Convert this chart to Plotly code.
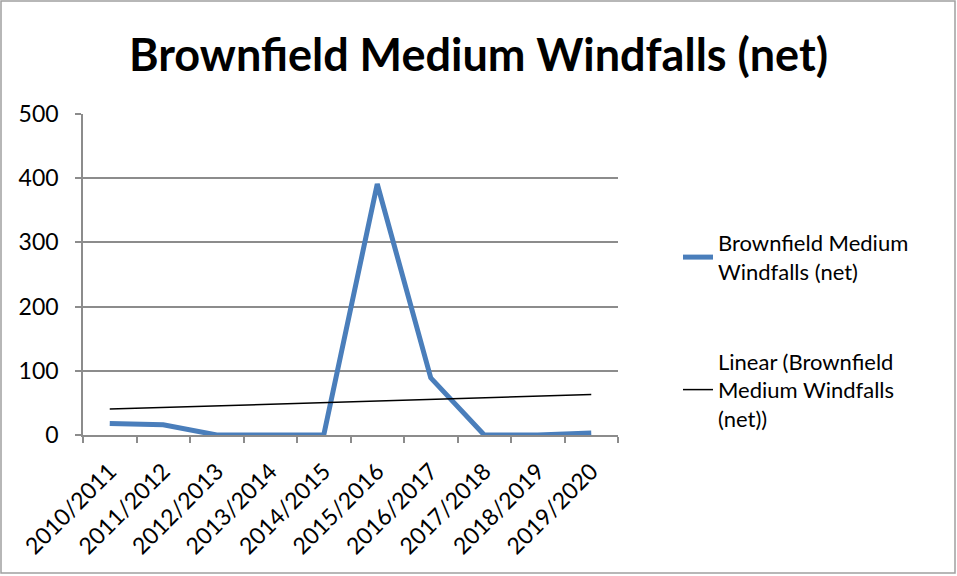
import numpy as np
import plotly.graph_objects as go

years = ["2010/2011", "2011/2012", "2012/2013", "2013/2014", "2014/2015",
         "2015/2016", "2016/2017", "2017/2018", "2018/2019", "2019/2020"]
windfalls = [18, 16, 0, 0, 0, 391, 89, 0, 0, 3]
y_ticks = [0, 100, 200, 300, 400, 500]

# linear trendline, as Excel draws it
idx = np.arange(len(years))
slope, intercept = np.polyfit(idx, windfalls, 1)
trend = slope * idx + intercept

FONT = "Lato"
GRID = "#8c8c8c"

fig = go.Figure()
fig.add_trace(go.Scatter(
    x=years, y=windfalls, mode="lines", legendgroup="a",
    name="Brownfield Medium<br>Windfalls (net)",
    line=dict(color="#4a7ebb", width=5),
))
fig.add_trace(go.Scatter(
    x=years, y=trend, mode="lines", legendgroup="b",
    name="Linear (Brownfield<br>Medium Windfalls<br>(net))",
    line=dict(color="black", width=1.5),
))

# plot area edges in px, used to place the outer border
L, R, T, B = 83, 618, 114, 435
W, H = 957, 576
pw, ph = R - L, B - T

fig.update_layout(
    width=W, height=H,
    margin=dict(l=L, r=W - R, t=T, b=H - B, autoexpand=False),
    paper_bgcolor="white", plot_bgcolor="white",
    font=dict(family=FONT, color="black", size=22),
    title=dict(text="<b>Brownfield Medium Windfalls (net)</b>",
               x=0.5, xanchor="center", y=1 - 55 / H, yanchor="middle",
               font=dict(size=45, family=FONT)),
    showlegend=True,
    legend=dict(x=(678 - L) / pw, y=(B - 222) / ph, xanchor="left", yanchor="top",
                font=dict(size=22), tracegroupgap=58, bgcolor="rgba(0,0,0,0)"),
    shapes=[dict(type="rect", xref="paper", yref="paper",
                 x0=(1 - L) / pw, x1=(955 - L) / pw,
                 y0=(B - 573) / ph, y1=(B - 1) / ph,
                 line=dict(color="#a0a0a0", width=1.5), layer="below")],
)
fig.update_xaxes(
    type="category", range=[-0.5, len(years) - 0.5], automargin=False,
    tickangle=-45, tickson="boundaries",
    ticks="outside", ticklen=6, tickcolor=GRID, tickwidth=1.5,
    ticklabelstandoff=12,
    showline=True, linecolor=GRID, linewidth=1.5, showgrid=False,
    tickfont=dict(size=23),
)
fig.update_yaxes(
    range=[0, 500], tickvals=y_ticks, automargin=False,
    ticks="outside", ticklen=6, tickcolor=GRID, tickwidth=1.5,
    ticklabelstandoff=12,
    showline=True, linecolor=GRID, linewidth=1.5,
    showgrid=True, gridcolor=GRID, gridwidth=1.5, zeroline=False,
    tickfont=dict(size=23),
)

fig.write_html("out.html", config={"displayModeBar": False},
               post_script="document.body.style.margin='0';")
